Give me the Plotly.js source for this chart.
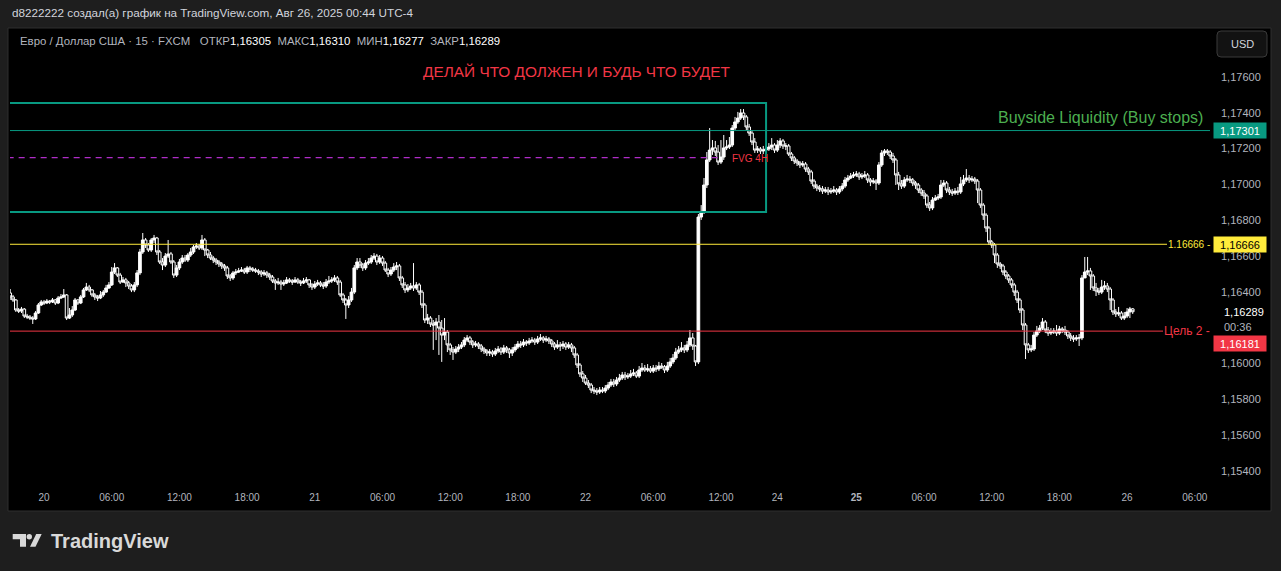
<!DOCTYPE html>
<html><head><meta charset="utf-8">
<script src="https://cdn.plot.ly/plotly-3.0.1.min.js"></script>
<style>html,body{margin:0;padding:0;background:#1e1e1e;}#chart{width:1281px;height:571px;}</style>
</head><body><div id="chart"></div>
<script>
// ---- DATA: EUR/USD 15m, FXCM (one bar per 15 minutes, weekend gap removed) ----
const firstBarTime = '2025-08-19T21:00:00Z';
const weekendGapStart = '2025-08-22T17:00:00Z';
const weekendGapEnd = '2025-08-24T17:00:00Z';

const opens = [1.16394,
1.16372,1.16355,1.16299,1.16293,1.16304,1.16265,1.16260,1.16254,1.16249,1.16282,
1.16327,1.16344,1.16338,1.16349,1.16344,1.16355,1.16338,1.16366,1.16372,1.16383,
1.16254,1.16271,1.16299,1.16355,1.16338,1.16372,1.16411,1.16427,1.16411,1.16383,
1.16372,1.16366,1.16383,1.16399,1.16422,1.16439,1.16511,1.16534,1.16494,1.16455,
1.16467,1.16450,1.16433,1.16411,1.16439,1.16506,1.16623,1.16690,1.16662,1.16634,
1.16690,1.16701,1.16623,1.16567,1.16550,1.16600,1.16612,1.16567,1.16494,1.16534,
1.16567,1.16589,1.16578,1.16606,1.16623,1.16651,1.16656,1.16645,1.16690,1.16634,
1.16606,1.16589,1.16578,1.16567,1.16556,1.16545,1.16534,1.16489,1.16478,1.16506,
1.16511,1.16517,1.16522,1.16511,1.16534,1.16528,1.16522,1.16517,1.16511,1.16500,
1.16506,1.16494,1.16483,1.16461,1.16450,1.16455,1.16444,1.16450,1.16467,1.16461,
1.16455,1.16467,1.16455,1.16450,1.16461,1.16467,1.16439,1.16427,1.16444,1.16450,
1.16439,1.16433,1.16455,1.16461,1.16467,1.16478,1.16455,1.16383,1.16355,1.16327,
1.16355,1.16399,1.16534,1.16567,1.16550,1.16534,1.16561,1.16567,1.16589,1.16600,
1.16567,1.16589,1.16561,1.16522,1.16500,1.16522,1.16539,1.16545,1.16478,1.16439,
1.16411,1.16422,1.16433,1.16422,1.16439,1.16399,1.16327,1.16243,1.16254,1.16221,
1.16215,1.16232,1.16198,1.16159,1.16176,1.16104,1.16076,1.16064,1.16081,1.16092,
1.16104,1.16131,1.16143,1.16120,1.16104,1.16109,1.16098,1.16081,1.16070,1.16059,
1.16064,1.16053,1.16070,1.16081,1.16064,1.16087,1.16076,1.16059,1.16076,1.16092,
1.16109,1.16104,1.16120,1.16115,1.16126,1.16131,1.16120,1.16137,1.16143,1.16131,
1.16137,1.16126,1.16109,1.16092,1.16104,1.16098,1.16109,1.16092,1.16104,1.16087,
1.16048,1.15992,1.15942,1.15919,1.15891,1.15880,1.15852,1.15847,1.15841,1.15852,
1.15847,1.15863,1.15880,1.15897,1.15886,1.15908,1.15919,1.15936,1.15925,1.15930,
1.15942,1.15947,1.15930,1.15964,1.15975,1.15964,1.15970,1.15958,1.15975,1.15970,
1.15986,1.15981,1.15964,1.15986,1.16009,1.16031,1.16064,1.16076,1.16087,1.16076,
1.16104,1.16143,1.16098,1.16009,1.16818,1.16846,1.16997,1.17137,1.17192,1.17204,
1.17181,1.17125,1.17153,1.17204,1.17209,1.17220,1.17315,1.17349,1.17371,1.17399,
1.17377,1.17321,1.17287,1.17237,1.17192,1.17198,1.17187,1.17192,1.17198,1.17209,
1.17220,1.17192,1.17220,1.17243,1.17215,1.17215,1.17170,1.17148,1.17131,1.17120,
1.17109,1.17114,1.17086,1.17070,1.17019,1.16991,1.16980,1.16975,1.16963,1.16969,
1.16958,1.16963,1.16969,1.16958,1.16975,1.16991,1.17025,1.17036,1.17047,1.17053,
1.17058,1.17042,1.17047,1.17053,1.17025,1.17014,1.17019,1.17008,1.17109,1.17176,
1.17187,1.17181,1.17159,1.17137,1.17053,1.17003,1.16991,1.17025,1.17030,1.17025,
1.17008,1.16997,1.16969,1.16952,1.16936,1.16885,1.16869,1.16913,1.16924,1.16930,
1.16997,1.17008,1.16969,1.16958,1.16952,1.16963,1.16958,1.17003,1.17025,1.17036,
1.17025,1.17030,1.17019,1.16969,1.16885,1.16829,1.16757,1.16679,1.16662,1.16606,
1.16556,1.16545,1.16511,1.16489,1.16467,1.16439,1.16399,1.16355,1.16299,1.16215,
1.16104,1.16076,1.16081,1.16159,1.16182,1.16198,1.16232,1.16187,1.16170,1.16176,
1.16182,1.16170,1.16193,1.16187,1.16176,1.16154,1.16143,1.16137,1.16143,1.16143,
1.16478,1.16511,1.16517,1.16489,1.16422,1.16405,1.16399,1.16427,1.16433,1.16416,
1.16355,1.16288,1.16277,1.16282,1.16254,1.16265,1.16288,1.16305];

const highs = [
1.16416,1.16383,1.16360,1.16310,1.16316,1.16310,1.16277,1.16271,1.16265,1.16293,
1.16338,1.16355,1.16355,1.16360,1.16355,1.16366,1.16360,1.16377,1.16388,1.16416,
1.16388,1.16310,1.16321,1.16366,1.16360,1.16383,1.16422,1.16450,1.16439,1.16416,
1.16394,1.16383,1.16405,1.16411,1.16439,1.16455,1.16539,1.16561,1.16539,1.16506,
1.16483,1.16478,1.16461,1.16444,1.16455,1.16522,1.16640,1.16729,1.16701,1.16673,
1.16701,1.16718,1.16707,1.16634,1.16589,1.16617,1.16690,1.16623,1.16578,1.16550,
1.16584,1.16606,1.16606,1.16617,1.16645,1.16662,1.16673,1.16667,1.16718,1.16701,
1.16640,1.16623,1.16600,1.16589,1.16578,1.16567,1.16556,1.16545,1.16500,1.16517,
1.16528,1.16534,1.16539,1.16534,1.16545,1.16545,1.16539,1.16534,1.16528,1.16522,
1.16522,1.16517,1.16506,1.16494,1.16472,1.16478,1.16467,1.16467,1.16483,1.16478,
1.16472,1.16483,1.16478,1.16467,1.16478,1.16483,1.16472,1.16450,1.16461,1.16467,
1.16461,1.16455,1.16472,1.16489,1.16483,1.16494,1.16489,1.16467,1.16394,1.16366,
1.16377,1.16422,1.16550,1.16589,1.16589,1.16561,1.16578,1.16589,1.16606,1.16617,
1.16612,1.16606,1.16600,1.16572,1.16534,1.16539,1.16561,1.16567,1.16556,1.16489,
1.16455,1.16444,1.16450,1.16561,1.16455,1.16450,1.16411,1.16338,1.16277,1.16265,
1.16243,1.16254,1.16271,1.16243,1.16254,1.16187,1.16115,1.16092,1.16098,1.16109,
1.16120,1.16148,1.16159,1.16154,1.16131,1.16126,1.16120,1.16109,1.16092,1.16081,
1.16081,1.16076,1.16087,1.16098,1.16092,1.16104,1.16098,1.16087,1.16092,1.16109,
1.16126,1.16126,1.16137,1.16131,1.16143,1.16148,1.16143,1.16154,1.16165,1.16154,
1.16154,1.16148,1.16137,1.16120,1.16131,1.16120,1.16126,1.16120,1.16120,1.16115,
1.16098,1.16059,1.16003,1.15958,1.15936,1.15908,1.15891,1.15869,1.15863,1.15869,
1.15869,1.15880,1.15897,1.15914,1.15914,1.15925,1.15942,1.15953,1.15953,1.15947,
1.15964,1.15970,1.15958,1.15986,1.16003,1.15992,1.15997,1.15986,1.15992,1.15992,
1.16009,1.16003,1.15992,1.16009,1.16031,1.16053,1.16087,1.16098,1.16120,1.16104,
1.16126,1.16187,1.16170,1.16104,1.16835,1.16885,1.17036,1.17181,1.17315,1.17248,
1.17243,1.17220,1.17248,1.17276,1.17248,1.17265,1.17332,1.17377,1.17405,1.17421,
1.17421,1.17388,1.17338,1.17304,1.17259,1.17215,1.17209,1.17215,1.17220,1.17231,
1.17259,1.17231,1.17248,1.17259,1.17254,1.17231,1.17226,1.17181,1.17159,1.17142,
1.17131,1.17131,1.17125,1.17098,1.17081,1.17030,1.17003,1.16997,1.16991,1.16986,
1.16986,1.16980,1.16991,1.16980,1.16991,1.17008,1.17042,1.17053,1.17064,1.17070,
1.17075,1.17070,1.17064,1.17075,1.17064,1.17036,1.17036,1.17030,1.17125,1.17192,
1.17198,1.17198,1.17192,1.17176,1.17148,1.17070,1.17025,1.17042,1.17053,1.17047,
1.17036,1.17019,1.17008,1.16980,1.16969,1.16947,1.16902,1.16930,1.16941,1.16947,
1.17025,1.17025,1.17019,1.16986,1.16975,1.16980,1.16986,1.17042,1.17053,1.17086,
1.17053,1.17047,1.17042,1.17030,1.16980,1.16896,1.16840,1.16768,1.16690,1.16673,
1.16617,1.16567,1.16556,1.16522,1.16500,1.16478,1.16450,1.16411,1.16366,1.16310,
1.16226,1.16115,1.16104,1.16176,1.16210,1.16215,1.16254,1.16243,1.16204,1.16198,
1.16198,1.16215,1.16210,1.16204,1.16210,1.16187,1.16170,1.16159,1.16159,1.16165,
1.16494,1.16595,1.16595,1.16534,1.16500,1.16450,1.16422,1.16467,1.16461,1.16450,
1.16427,1.16366,1.16304,1.16316,1.16293,1.16288,1.16310,1.16316,1.16310];

const lows = [
1.16355,1.16344,1.16288,1.16282,1.16282,1.16254,1.16249,1.16243,1.16221,1.16243,
1.16277,1.16321,1.16327,1.16332,1.16332,1.16338,1.16327,1.16332,1.16360,1.16366,
1.16243,1.16249,1.16260,1.16293,1.16327,1.16332,1.16366,1.16405,1.16399,1.16372,
1.16355,1.16349,1.16360,1.16372,1.16394,1.16416,1.16433,1.16500,1.16483,1.16444,
1.16450,1.16427,1.16416,1.16399,1.16399,1.16427,1.16494,1.16612,1.16645,1.16623,
1.16623,1.16673,1.16606,1.16556,1.16522,1.16539,1.16589,1.16556,1.16478,1.16483,
1.16522,1.16556,1.16567,1.16567,1.16595,1.16612,1.16640,1.16634,1.16634,1.16600,
1.16589,1.16578,1.16561,1.16550,1.16539,1.16528,1.16517,1.16472,1.16461,1.16467,
1.16494,1.16506,1.16511,1.16500,1.16500,1.16511,1.16511,1.16506,1.16494,1.16483,
1.16489,1.16478,1.16467,1.16450,1.16411,1.16439,1.16411,1.16433,1.16444,1.16450,
1.16439,1.16450,1.16444,1.16433,1.16444,1.16450,1.16422,1.16411,1.16416,1.16433,
1.16427,1.16416,1.16422,1.16444,1.16450,1.16455,1.16439,1.16372,1.16338,1.16249,
1.16310,1.16344,1.16388,1.16522,1.16534,1.16517,1.16522,1.16550,1.16556,1.16578,
1.16550,1.16556,1.16545,1.16511,1.16483,1.16489,1.16511,1.16522,1.16461,1.16422,
1.16394,1.16399,1.16411,1.16405,1.16411,1.16383,1.16310,1.16226,1.16221,1.16204,
1.16076,1.16131,1.16048,1.16009,1.16131,1.16064,1.16048,1.16020,1.16053,1.16064,
1.16081,1.16092,1.16120,1.16104,1.16087,1.16092,1.16081,1.16064,1.16053,1.16042,
1.16042,1.16037,1.16042,1.16059,1.16048,1.16053,1.16059,1.16031,1.16042,1.16064,
1.16081,1.16087,1.16092,1.16098,1.16104,1.16115,1.16104,1.16109,1.16126,1.16115,
1.16120,1.16109,1.16092,1.16076,1.16081,1.16070,1.16081,1.16076,1.16081,1.16064,
1.16031,1.15975,1.15925,1.15897,1.15880,1.15863,1.15835,1.15830,1.15824,1.15830,
1.15835,1.15835,1.15852,1.15869,1.15869,1.15874,1.15897,1.15908,1.15908,1.15914,
1.15919,1.15930,1.15919,1.15919,1.15953,1.15953,1.15953,1.15947,1.15947,1.15953,
1.15958,1.15970,1.15947,1.15953,1.15975,1.15997,1.16020,1.16053,1.16064,1.16059,
1.16064,1.16092,1.16076,1.15986,1.15997,1.16802,1.16835,1.16980,1.17125,1.17165,
1.17159,1.17109,1.17114,1.17137,1.17192,1.17198,1.17209,1.17304,1.17338,1.17360,
1.17360,1.17304,1.17271,1.17220,1.17176,1.17176,1.17170,1.17170,1.17181,1.17187,
1.17192,1.17176,1.17181,1.17204,1.17198,1.17192,1.17159,1.17131,1.17114,1.17103,
1.17092,1.17098,1.17070,1.17053,1.17003,1.16975,1.16963,1.16958,1.16947,1.16952,
1.16941,1.16947,1.16952,1.16941,1.16947,1.16963,1.16980,1.17014,1.17030,1.17036,
1.17042,1.17025,1.17030,1.17036,1.17008,1.16991,1.17003,1.16969,1.16997,1.17098,
1.17159,1.17165,1.17142,1.17120,1.16997,1.16969,1.16975,1.16980,1.17014,1.17008,
1.16991,1.16975,1.16952,1.16936,1.16919,1.16869,1.16852,1.16857,1.16908,1.16913,
1.16919,1.16986,1.16952,1.16941,1.16936,1.16941,1.16941,1.16947,1.16991,1.17014,
1.17008,1.17014,1.17003,1.16896,1.16869,1.16802,1.16734,1.16662,1.16645,1.16561,
1.16534,1.16528,1.16494,1.16472,1.16450,1.16422,1.16377,1.16338,1.16282,1.16187,
1.16025,1.16059,1.16064,1.16070,1.16148,1.16170,1.16187,1.16170,1.16154,1.16159,
1.16165,1.16154,1.16159,1.16170,1.16159,1.16137,1.16126,1.16120,1.16126,1.16098,
1.16131,1.16478,1.16494,1.16411,1.16405,1.16377,1.16383,1.16388,1.16411,1.16399,
1.16299,1.16271,1.16260,1.16265,1.16243,1.16243,1.16254,1.16254,1.16277];

const closes = [
1.16372,1.16355,1.16299,1.16293,1.16304,1.16265,1.16260,1.16254,1.16249,1.16282,
1.16327,1.16344,1.16338,1.16349,1.16344,1.16355,1.16338,1.16366,1.16372,1.16383,
1.16254,1.16271,1.16299,1.16355,1.16338,1.16372,1.16411,1.16427,1.16411,1.16383,
1.16372,1.16366,1.16383,1.16399,1.16422,1.16439,1.16511,1.16534,1.16494,1.16455,
1.16467,1.16450,1.16433,1.16411,1.16439,1.16506,1.16623,1.16690,1.16662,1.16634,
1.16690,1.16701,1.16623,1.16567,1.16550,1.16600,1.16612,1.16567,1.16494,1.16534,
1.16567,1.16589,1.16578,1.16606,1.16623,1.16651,1.16656,1.16645,1.16690,1.16634,
1.16606,1.16589,1.16578,1.16567,1.16556,1.16545,1.16534,1.16489,1.16478,1.16506,
1.16511,1.16517,1.16522,1.16511,1.16534,1.16528,1.16522,1.16517,1.16511,1.16500,
1.16506,1.16494,1.16483,1.16461,1.16450,1.16455,1.16444,1.16450,1.16467,1.16461,
1.16455,1.16467,1.16455,1.16450,1.16461,1.16467,1.16439,1.16427,1.16444,1.16450,
1.16439,1.16433,1.16455,1.16461,1.16467,1.16478,1.16455,1.16383,1.16355,1.16327,
1.16355,1.16399,1.16534,1.16567,1.16550,1.16534,1.16561,1.16567,1.16589,1.16600,
1.16567,1.16589,1.16561,1.16522,1.16500,1.16522,1.16539,1.16545,1.16478,1.16439,
1.16411,1.16422,1.16433,1.16422,1.16439,1.16399,1.16327,1.16243,1.16254,1.16221,
1.16215,1.16232,1.16198,1.16159,1.16176,1.16104,1.16076,1.16064,1.16081,1.16092,
1.16104,1.16131,1.16143,1.16120,1.16104,1.16109,1.16098,1.16081,1.16070,1.16059,
1.16064,1.16053,1.16070,1.16081,1.16064,1.16087,1.16076,1.16059,1.16076,1.16092,
1.16109,1.16104,1.16120,1.16115,1.16126,1.16131,1.16120,1.16137,1.16143,1.16131,
1.16137,1.16126,1.16109,1.16092,1.16104,1.16098,1.16109,1.16092,1.16104,1.16087,
1.16048,1.15992,1.15942,1.15919,1.15891,1.15880,1.15852,1.15847,1.15841,1.15852,
1.15847,1.15863,1.15880,1.15897,1.15886,1.15908,1.15919,1.15936,1.15925,1.15930,
1.15942,1.15947,1.15930,1.15964,1.15975,1.15964,1.15970,1.15958,1.15975,1.15970,
1.15986,1.15981,1.15964,1.15986,1.16009,1.16031,1.16064,1.16076,1.16087,1.16076,
1.16104,1.16143,1.16098,1.16009,1.16818,1.16846,1.16997,1.17137,1.17192,1.17204,
1.17181,1.17125,1.17153,1.17204,1.17209,1.17220,1.17315,1.17349,1.17371,1.17399,
1.17377,1.17321,1.17287,1.17237,1.17192,1.17198,1.17187,1.17192,1.17198,1.17209,
1.17220,1.17192,1.17220,1.17243,1.17215,1.17215,1.17170,1.17148,1.17131,1.17120,
1.17109,1.17114,1.17086,1.17070,1.17019,1.16991,1.16980,1.16975,1.16963,1.16969,
1.16958,1.16963,1.16969,1.16958,1.16975,1.16991,1.17025,1.17036,1.17047,1.17053,
1.17058,1.17042,1.17047,1.17053,1.17025,1.17014,1.17019,1.17008,1.17109,1.17176,
1.17187,1.17181,1.17159,1.17137,1.17053,1.17003,1.16991,1.17025,1.17030,1.17025,
1.17008,1.16997,1.16969,1.16952,1.16936,1.16885,1.16869,1.16913,1.16924,1.16930,
1.16997,1.17008,1.16969,1.16958,1.16952,1.16963,1.16958,1.17003,1.17025,1.17036,
1.17025,1.17030,1.17019,1.16969,1.16885,1.16829,1.16757,1.16679,1.16662,1.16606,
1.16556,1.16545,1.16511,1.16489,1.16467,1.16439,1.16399,1.16355,1.16299,1.16215,
1.16104,1.16076,1.16081,1.16159,1.16182,1.16198,1.16232,1.16187,1.16170,1.16176,
1.16182,1.16170,1.16193,1.16187,1.16176,1.16154,1.16143,1.16137,1.16143,1.16143,
1.16478,1.16511,1.16517,1.16489,1.16422,1.16405,1.16399,1.16427,1.16433,1.16416,
1.16355,1.16288,1.16277,1.16282,1.16254,1.16265,1.16288,1.16305,1.16289];

// time axis labels
const tickTimes = ['2025-08-20 00:00','2025-08-20 06:00','2025-08-20 12:00','2025-08-20 18:00',
  '2025-08-21 00:00','2025-08-21 06:00','2025-08-21 12:00','2025-08-21 18:00',
  '2025-08-22 00:00','2025-08-22 06:00','2025-08-22 12:00','2025-08-24 17:00',
  '2025-08-25 00:00','2025-08-25 06:00','2025-08-25 12:00','2025-08-25 18:00',
  '2025-08-26 00:00','2025-08-26 06:00'];
const tickLabels = ['20','06:00','12:00','18:00','21','06:00','12:00','18:00','22','06:00','12:00','24',
  '<b>25</b>','06:00','12:00','18:00','26','06:00'];
const priceTicks = [1.154,1.156,1.158,1.160,1.164,1.166,1.168,1.170,1.172,1.174,1.176];

// drawing levels
const buysideLevel = 1.17301;
const yellowLevel = 1.16666;
const targetLevel = 1.16181;
const fvgLevel = 1.17150;
const zoneTop = 1.17455, zoneBottom = 1.16846;
const zoneEnd = '2025-08-22 16:00';
const fvgEnd = '2025-08-22 12:06';
const lastPrice = 1.16289;

// ---- build bar times (15 min, skip weekend closure) ----
function fmt(ms){ return new Date(ms).toISOString().slice(0,16).replace('T',' '); }
const times = [];
let t = Date.parse(firstBarTime);
const gs = Date.parse(weekendGapStart), ge = Date.parse(weekendGapEnd);
for (let i = 0; i < closes.length; i++) {
  if (t >= gs && t < ge) t = ge;
  times.push(fmt(t));
  t += 15*60000;
}

// ---- pixel helpers for decorations ----
const L = 10, R = 1210, T = 29, B = 484;
const px = x => (x - L) / (R - L);
const py = y => (B - y) / (B - T);
const FONT = 'Liberation Sans, Arial, sans-serif';

function roundRect(x0,y0,x1,y1,r){
  const X = px, Y = py;
  return `M ${X(x0+r)} ${Y(y0)} L ${X(x1-r)} ${Y(y0)} Q ${X(x1)} ${Y(y0)} ${X(x1)} ${Y(y0+r)} L ${X(x1)} ${Y(y1-r)} Q ${X(x1)} ${Y(y1)} ${X(x1-r)} ${Y(y1)} L ${X(x0+r)} ${Y(y1)} Q ${X(x0)} ${Y(y1)} ${X(x0)} ${Y(y1-r)} L ${X(x0)} ${Y(y0+r)} Q ${X(x0)} ${Y(y0)} ${X(x0+r)} ${Y(y0)} Z`;
}
function poly(pts){ return 'M ' + pts.map(p => px(p[0]) + ' ' + py(p[1])).join(' L ') + ' Z'; }

const trace = {
  type: 'candlestick', x: times, open: opens, high: highs, low: lows, close: closes,
  increasing: {line: {color: '#ffffff', width: 1}, fillcolor: '#ffffff'},
  decreasing: {line: {color: '#ffffff', width: 1}, fillcolor: '#000000'},
  whiskerwidth: 0, hoverinfo: 'skip', showlegend: false
};

const shapes = [
  // chart pane
  {type:'rect', xref:'paper', yref:'paper', x0:px(8), x1:px(1271), y0:py(511), y1:py(28),
   fillcolor:'#000000', line:{color:'#2e2e2e', width:1}, layer:'below'},
  // USD button
  {type:'path', xref:'paper', yref:'paper', path: roundRect(1217,31,1267,57,4),
   fillcolor:'#121212', line:{color:'#3a3a3a', width:1}},
  // liquidity zone
  {type:'rect', xref:'x', yref:'y', x0:'2025-08-19 12:00', x1:zoneEnd, y0:zoneBottom, y1:zoneTop,
   line:{color:'#089981', width:2}, fillcolor:'rgba(0,0,0,0)'},
  {type:'line', xref:'paper', yref:'y', x0:0, x1:1, y0:buysideLevel, y1:buysideLevel,
   line:{color:'#089981', width:1}},
  {type:'line', xref:'x', yref:'y', x0:'2025-08-19 12:00', x1:fvgEnd, y0:fvgLevel, y1:fvgLevel,
   line:{color:'#b02cc8', width:1.3, dash:'6px,5px'}},
  {type:'line', xref:'paper', yref:'y', x0:0, x1:px(1167), y0:yellowLevel, y1:yellowLevel,
   line:{color:'#ffeb3b', width:1}},
  {type:'line', xref:'paper', yref:'y', x0:0, x1:px(1163), y0:targetLevel, y1:targetLevel,
   line:{color:'#f23645', width:1}},
  // TradingView logo glyph
  {type:'path', xref:'paper', yref:'paper', path: poly([[12.7,534],[26,534],[26,546.7],[20,546.7],[20,539.3],[12.7,539.3]]),
   fillcolor:'#d9d9d9', line:{width:0}},
  {type:'circle', xref:'paper', yref:'paper', x0:px(26.6), x1:px(32), y0:py(539.4), y1:py(534),
   fillcolor:'#d9d9d9', line:{width:0}},
  {type:'path', xref:'paper', yref:'paper', path: poly([[30,546.7],[35.5,546.7],[41.7,534],[36.2,534]]),
   fillcolor:'#d9d9d9', line:{width:0}}
];

const NB = '\u00a0';
const gray = '#b2b5be';
function lab(t){ return `<span style="color:${gray}">${t}</span>`; }
const legendText = lab('Евро / Доллар США · 15 · FXCM') + NB+NB+NB +
  lab('ОТКР') + '1,16305' + NB+NB + lab('МАКС') + '1,16310' + NB+NB + lab('МИН') + '1,16277' + NB+NB + lab('ЗАКР') + '1,16289';

const ann = (o) => Object.assign({showarrow:false, xref:'paper', yref:'paper'}, o);
const annotations = [
  ann({x:px(10), y:py(13), xanchor:'left', yanchor:'middle', text:'d8222222 создал(а) график на TradingView.com, Авг 26, 2025 00:44 UTC-4',
       font:{family:FONT, size:11.7, color:'#d1d4dc'}}),
  ann({x:px(18), y:py(41), xanchor:'left', yanchor:'middle', text:legendText,
       font:{family:FONT, size:11.4, color:'#ffffff'}}),
  ann({x:px(577), y:py(71), xanchor:'center', yanchor:'middle', text:'ДЕЛАЙ ЧТО ДОЛЖЕН И БУДЬ ЧТО БУДЕТ',
       font:{family:FONT, size:15.4, color:'#f23645'}}),
  ann({x:px(1205), y:py(118), xanchor:'right', yanchor:'middle', text:'Buyside Liquidity (Buy stops)',
       font:{family:FONT, size:16, color:'#4caf50'}}),
  ann({x:px(730), y:py(158), xanchor:'left', yanchor:'middle', text:'FVG 4H',
       font:{family:FONT, size:10, color:'#f23645'}}),
  ann({x:px(1212), yref:'y', y:yellowLevel, xanchor:'right', yanchor:'middle', text:'1.16666 -',
       font:{family:FONT, size:10, color:'#ffeb3b'}}),
  ann({x:px(1212), yref:'y', y:targetLevel, xanchor:'right', yanchor:'middle', text:'Цель 2 -',
       font:{family:FONT, size:12, color:'#f23645'}}),
  // price scale labels
  ann({x:px(1213), yref:'y', y:buysideLevel, xanchor:'left', yanchor:'middle', text:'1,17301',
       width:52, height:15, borderpad:0, bgcolor:'#089981', font:{family:FONT, size:11, color:'#ffffff'}}),
  ann({x:px(1213), yref:'y', y:yellowLevel, xanchor:'left', yanchor:'middle', text:'1,16666',
       width:52, height:15, borderpad:0, bgcolor:'#ffeb3b', font:{family:FONT, size:11, color:'#000000'}}),
  ann({x:px(1222), yref:'y', y:lastPrice, xanchor:'left', yanchor:'middle', text:'1,16289',
       font:{family:FONT, size:11, color:'#ffffff'}}),
  ann({x:px(1222), y:py(326.5), xanchor:'left', yanchor:'middle', text:'00:36',
       font:{family:FONT, size:11, color:gray}}),
  ann({x:px(1213), yref:'y', y:targetLevel, yshift:-12.5, xanchor:'left', yanchor:'middle', text:'1,16181',
       width:52, height:15, borderpad:0, bgcolor:'#f23645', font:{family:FONT, size:11, color:'#ffffff'}}),
  ann({x:px(1242), y:py(44), xanchor:'center', yanchor:'middle', text:'USD',
       font:{family:FONT, size:11, color:'#d1d4dc'}}),
  ann({x:px(49), y:py(541), xanchor:'left', yanchor:'middle', text:'<b>TradingView</b>',
       font:{family:FONT, size:20, color:'#d9d9d9'}})
];

const layout = {
  width: 1281, height: 571,
  margin: {l: L, r: 1281 - R, t: T, b: 571 - B, pad: 0},
  paper_bgcolor: '#1e1e1e', plot_bgcolor: '#000000',
  separators: ', ',
  boxgap: 0.05, boxgroupgap: 0,
  showlegend: false, hovermode: false, dragmode: false,
  xaxis: {
    type: 'date', range: ['2025-08-19 20:58:57', '2025-08-26 07:21'],
    rangebreaks: [{values: ['2025-08-22 17:00'], dvalue: 48*3600*1000}],
    rangeslider: {visible: false},
    tickmode: 'array', tickvals: tickTimes, ticktext: tickLabels,
    showgrid: false, zeroline: false, showline: false, ticks: '',
    ticklabelstandoff: 6,
    tickfont: {family: FONT, size: 10, color: gray}, fixedrange: true
  },
  yaxis: {
    range: [1.153273, 1.178681], side: 'right',
    tickmode: 'array', tickvals: priceTicks, tickformat: '.5f',
    showgrid: false, zeroline: false, showline: false, ticks: '',
    ticklabelstandoff: 10,
    tickfont: {family: FONT, size: 11, color: gray}, fixedrange: true
  },
  shapes: shapes,
  annotations: annotations
};

Plotly.newPlot('chart', [trace], layout, {displayModeBar: false, staticPlot: true});
</script>
</body></html>
